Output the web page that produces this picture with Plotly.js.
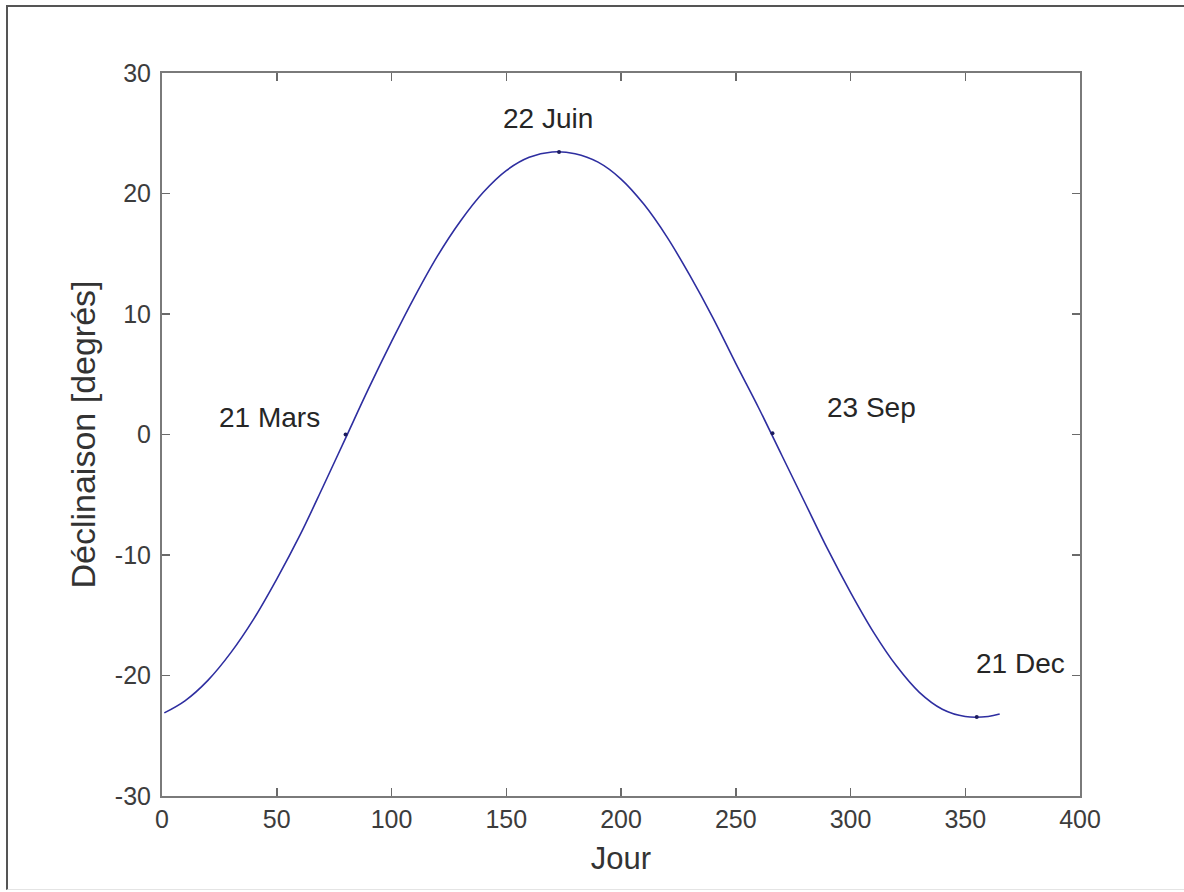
<!DOCTYPE html>
<html>
<head>
<meta charset="utf-8">
<script src="https://cdn.plot.ly/plotly-3.0.1.min.js"></script>
<style>
  html, body { margin: 0; padding: 0; background: #ffffff; }
  #wrap { position: relative; width: 1184px; height: 892px; overflow: hidden; }
  #chart { position: absolute; left: 0; top: 0; width: 1184px; height: 892px; }
  #frame { position: absolute; left: 6px; top: 5px; width: 1190px; height: 882px;
           border-top: 2px solid #555; border-left: 2px solid #555; border-bottom: 1px solid #e4e4e4;
           pointer-events: none; }
</style>
</head>
<body>
<div id="wrap">
  <div id="chart"></div>
  <div id="frame"></div>
</div>
<script>
// Day of year and declination (degrees)
const days = [1, 10, 20, 30, 40, 50, 60, 70, 80, 90, 100, 110, 120, 130, 140, 150, 160, 170,
              180, 190, 200, 210, 220, 230, 240, 250, 260, 270, 280, 290, 300, 310, 320, 330,
              340, 350, 360, 365];
const declination = [-23.1, -22.1, -20.4, -18.1, -15.3, -12.0, -8.4, -4.4, -0.3, 3.8, 7.7, 11.4, 14.8,
              17.7, 20.1, 21.9, 23.0, 23.45, 23.3, 22.6, 21.2, 19.1, 16.4, 13.2, 9.7, 5.9, 2.2,
              -1.7, -5.6, -9.5, -13.1, -16.4, -19.2, -21.4, -22.8, -23.4, -23.4, -23.2];

// Marked dates
const markDays = [80, 173, 266, 355];
const markVals = [0, 23.45, 0.1, -23.45];
const markLabels = ["21 Mars", "22 Juin", "23 Sep", "21 Dec"];
const labelX = [47, 168, 309, 374];
const labelY = [1.4, 26.2, 2.2, -19.0];

const xTicks = [0, 50, 100, 150, 200, 250, 300, 350, 400];
const yTicks = [-30, -20, -10, 0, 10, 20, 30];

const FONT = "'Liberation Sans', Arial, Helvetica, sans-serif";

const traces = [
  {
    x: days, y: declination, type: 'scatter', mode: 'lines',
    line: { color: '#2e2ea0', width: 1.6, shape: 'spline', smoothing: 1 },
    hoverinfo: 'skip', showlegend: false
  },
  {
    x: markDays, y: markVals, type: 'scatter', mode: 'markers',
    marker: { color: '#1c1c5e', size: 4 },
    hoverinfo: 'skip', showlegend: false
  }
];

const annotations = markLabels.map((t, i) => ({
  x: labelX[i], y: labelY[i], xref: 'x', yref: 'y', text: t, showarrow: false,
  xanchor: 'center', yanchor: 'middle',
  font: { family: FONT, size: 28, color: '#262626' }
}));

const axisCommon = {
  showgrid: false, zeroline: false,
  showline: true, linecolor: '#7a7a7a', linewidth: 2, mirror: 'ticks',
  ticks: 'inside', ticklen: 8, tickwidth: 1.5, tickcolor: '#6a6a6a',
  tickfont: { family: FONT, size: 25, color: '#3c3c3c' },
  fixedrange: true
};

const layout = {
  width: 1184, height: 892,
  margin: { l: 162, r: 104, t: 73, b: 96, pad: 0 },
  paper_bgcolor: '#ffffff', plot_bgcolor: '#ffffff',
  xaxis: Object.assign({}, axisCommon, {
    range: [0, 400], tickmode: 'array', tickvals: xTicks,
    ticktext: xTicks.map(String),
    title: { text: 'Jour', font: { family: FONT, size: 31, color: '#333333' }, standoff: 15 }
  }),
  yaxis: Object.assign({}, axisCommon, {
    range: [-30, 30], tickmode: 'array', tickvals: yTicks,
    ticktext: yTicks.map(String),
    ticklabelstandoff: 4,
    title: { text: 'Déclinaison [degrés]', font: { family: FONT, size: 34, color: '#333333' }, standoff: 9 }
  }),
  annotations: annotations,
  showlegend: false
};

Plotly.newPlot('chart', traces, layout, { staticPlot: true, displayModeBar: false });
</script>
</body>
</html>
